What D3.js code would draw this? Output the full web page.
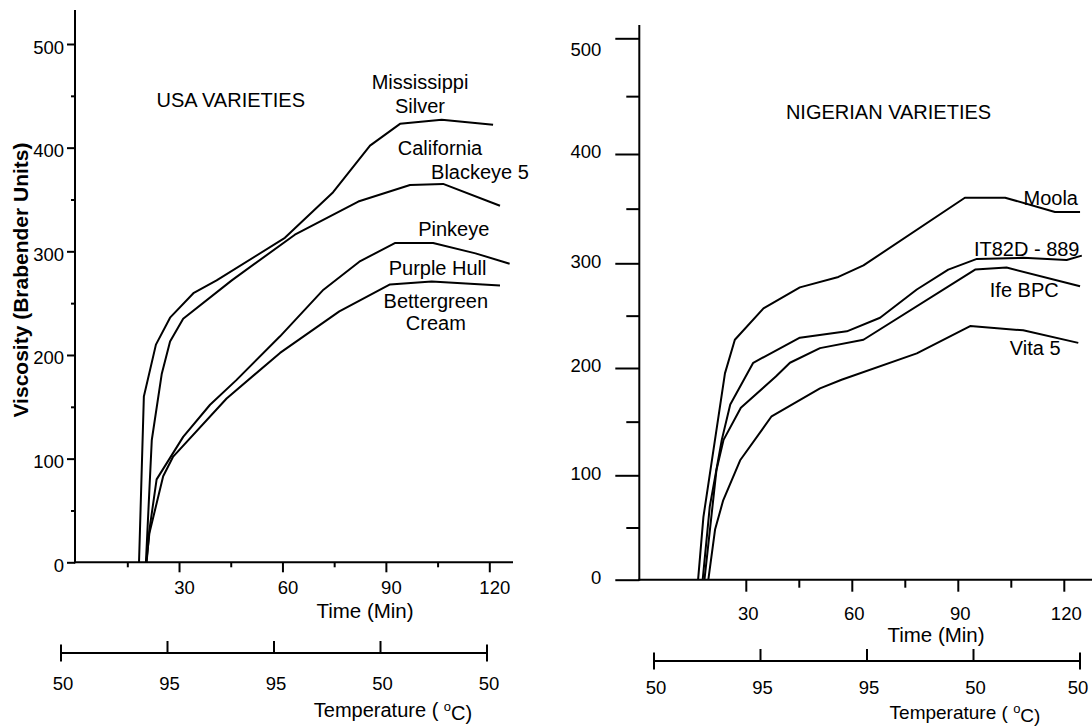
<!DOCTYPE html>
<html lang="en">
<head>
<meta charset="utf-8">
<title>Viscosity curves</title>
<script src="https://d3js.org/d3.v7.min.js"></script>
<style>
  body { margin: 0; background: #fff; }
  svg { font-family: "Liberation Sans", Arial, sans-serif; }
  .curve { fill: none; stroke: #000; stroke-width: 2; stroke-linejoin: round; }
  .axis path { display: none; }
  .axis line, .rule { stroke: #000; stroke-width: 2; }
  .axis text { font-size: 18.5px; fill: #000; font-family: "Liberation Sans", Arial, sans-serif; }
  .lbl { font-size: 20px; fill: #000; }
</style>
</head>
<body>
<script>
var w = 1092, h = 727;

// ticks
var timeMajor = [30, 60, 90, 120];
var timeMinorUsa = [15, 45, 75, 105];
var timeMinorNig = [45, 75, 105];
var viscMajor = [0, 100, 200, 300, 400, 500];
var viscMinor = [50, 150, 250, 350, 450];
var tempLabels = ['50', '95', '95', '50', '50'];
var tempTimes = [0, 30, 60, 90, 120];

// USA varieties, [time (min), viscosity (BU)]
var missSilver = [[18.4,0],[19.8,160],[23.3,210],[27.4,236],[34.3,260],[40.9,272],[60.7,313],[74.7,357],[85.4,402],[94.1,423],[106.2,427],[121.1,422]];
var calBlackeye = [[20.4,0],[20.8,28],[22.1,118],[25.0,182],[27.4,213],[31.2,235],[45.3,272],[63.6,316],[82,348],[97,364],[106.6,365],[123.1,344]];
var pinkeye = [[20.6,0],[21.4,31],[23.5,80],[31.2,121],[39,152],[46.7,176],[59.3,218],[71.9,263],[82.3,290],[92.6,308],[103.7,308],[116,298],[125.9,288]];
var bettergreen = [[20.5,0],[21.4,28],[25.4,83],[28.3,102],[43.8,158],[59.3,202],[76.5,242],[91.2,268],[103.3,271],[123.1,267]];

// Nigerian varieties
var moola = [[16.5,0],[18.0,60],[24.1,195],[26.9,227],[35.0,257],[45.3,277],[56.2,287],[63.3,298],[92.0,360],[103.4,360],[117.5,347],[124.6,347]];
var it82d = [[17.8,0],[19.8,70],[23.2,133],[25.6,166],[32.1,205],[45.3,229],[58.6,235],[68,248],[78.4,275],[87.3,294],[95.4,304],[108.5,305],[120.8,303],[125.1,307]];
var ifeBpc = [[18.3,0],[21.7,105],[23.7,133],[28.6,163],[38.5,192],[42.5,205],[51,219],[63.3,227],[94.9,294],[103.8,296],[124.6,278]];
var vita5 = [[19.4,0],[21.3,48],[23.6,76],[28.4,114],[37.3,155],[51,181],[57.1,189],[78.4,214],[93.5,240],[108.5,236],[124.1,224]];

// curve labels, anchored in data units
var usaLabels = [
  {text:'USA VARIETIES', t:45, v:446},
  {text:'Mississippi', t:99.9, v:463},
  {text:'Silver', t:99.9, v:440},
  {text:'California', t:105.7, v:400},
  {text:'Blackeye 5', t:117.3, v:376.5},
  {text:'Pinkeye', t:109.7, v:321.5},
  {text:'Purple Hull', t:105, v:284},
  {text:'Bettergreen', t:104.5, v:252},
  {text:'Cream', t:104.5, v:231}
];
var nigLabels = [
  {text:'NIGERIAN VARIETIES', t:70.4, v:436},
  {text:'Moola', t:116.3, v:360},
  {text:'IT82D - 889', t:109.5, v:313},
  {text:'Ife BPC', t:108.8, v:274.5},
  {text:'Vita 5', t:111.9, v:219}
];

var svg = d3.select('body').append('svg')
    .attr('width', w)
    .attr('height', h);

var line = d3.line();

function drawPanel(p) {
  var g = svg.append('g');
  var x = p.x, y = p.y;

  g.append('line').attr('class', 'rule')
    .attr('x1', p.axisX).attr('x2', p.axisX).attr('y1', p.axisTop).attr('y2', y(0) + 1);
  g.append('line').attr('class', 'rule')
    .attr('x1', p.axisX - 1).attr('x2', p.axisEnd).attr('y1', y(0)).attr('y2', y(0));

  // y axis
  var ya = g.append('g').attr('class', 'axis')
      .attr('transform', 'translate(' + p.axisX + ',0)')
      .call(d3.axisLeft(y).tickValues(viscMajor).tickSize(p.yMajor).tickPadding(p.yPad).tickFormat(d3.format('d')));
  ya.selectAll('text').attr('y', function(d){return d === 500 ? p.topLabelShift : p.yLabelShift;});
  g.append('g').attr('class', 'axis')
      .attr('transform', 'translate(' + p.axisX + ',0)')
      .call(d3.axisLeft(y).tickValues(viscMinor).tickSize(p.yMinor).tickFormat(''));

  // x axis
  var xa = g.append('g').attr('class', 'axis')
      .attr('transform', 'translate(0,' + y(0) + ')')
      .call(d3.axisBottom(x).tickValues(timeMajor).tickSize(p.xMajor).tickPadding(p.xPad));
  xa.selectAll('text').attr('dx', p.xLabelShift);
  g.append('g').attr('class', 'axis')
      .attr('transform', 'translate(0,' + y(0) + ')')
      .call(d3.axisBottom(x).tickValues(p.minorTimes).tickSize(p.xMinor).tickFormat(''));

  g.append('text').attr('class', 'lbl')
    .attr('x', p.timeTitle[0]).attr('y', p.timeTitle[1])
    .attr('dy', '0.35em').attr('text-anchor', 'middle')
    .style('font-size', '20.5px')
    .text('Time (Min)');

  // temperature programme bar
  var tx = d3.scaleLinear().domain([0, 120]).range(p.tempRange);
  var tb = g.append('g').attr('class', 'axis');
  tb.append('line').attr('x1', tx(0)).attr('x2', tx(120)).attr('y1', p.tempY).attr('y2', p.tempY);
  tb.selectAll('.tt').data(tempTimes).enter().append('line')
    .attr('x1', function(d){return tx(d);}).attr('x2', function(d){return tx(d);})
    .attr('y1', function(d,i){return (i === 0 || i === tempTimes.length - 1) ? p.tempY - 8.5 : p.tempY - 12;})
    .attr('y2', function(d,i){return (i === 0 || i === tempTimes.length - 1) ? p.tempY + 8.5 : p.tempY;});
  tb.selectAll('.tl').data(tempTimes).enter().append('text')
    .attr('x', function(d,i){return tx(d) + (i === tempTimes.length - 1 ? p.lastTempShift : 2);})
    .attr('y', p.tempY + p.tempGap)
    .attr('dy', '0.35em')
    .attr('text-anchor', 'middle')
    .text(function(d,i){return tempLabels[i];});

  var tt = g.append('text').attr('class', 'lbl')
    .attr('x', p.tempTitle[0]).attr('y', p.tempTitle[1])
    .attr('dy', '0.35em').attr('text-anchor', 'middle')
    .style('font-size', p.tempTitleSize);
  tt.append('tspan').text('Temperature ( ');
  tt.append('tspan').attr('dy', '-0.45em').style('font-size', '13px').text('o');
  tt.append('tspan').attr('dy', '0.45em').text('C)');

  // curves
  g.selectAll('.curve').data(p.series).enter().append('path')
    .attr('class', 'curve')
    .attr('d', function(s){return line(s.map(function(d){return [x(d[0]), y(d[1])];}));});

  g.selectAll('.note').data(p.labels).enter().append('text')
    .attr('class', 'lbl')
    .attr('x', function(d){return x(d.t);})
    .attr('y', function(d){return y(d.v);})
    .attr('dy', '0.35em')
    .attr('text-anchor', 'middle')
    .text(function(d){return d.text;});
}

drawPanel({
  x: d3.scaleLinear().domain([0, 120]).range([75.6, 489.3]),
  y: d3.scaleLinear().domain([0, 500]).range([562.3, 44]),
  axisX: 75, axisTop: 10, axisEnd: 513,
  yMajor: 8, yMinor: 4, yPad: 3, yLabelShift: 3, topLabelShift: 4,
  xMajor: 10, xMinor: 5, xPad: 9, xLabelShift: 5,
  minorTimes: timeMinorUsa,
  timeTitle: [365, 611],
  tempRange: [61, 487], tempY: 653, tempGap: 31, lastTempShift: 2,
  tempTitle: [393, 710], tempTitleSize: '20px',
  series: [missSilver, calBlackeye, pinkeye, bettergreen],
  labels: usaLabels
});

drawPanel({
  x: d3.scaleLinear().domain([0, 120]).range([639.8, 1063.8]),
  // hand-drawn axis: uneven spacing between the printed ticks
  y: d3.scaleLinear().domain(viscMajor).range([579.7, 475.3, 368, 263.3, 154, 38.3]),
  axisX: 639.3, axisTop: 25, axisEnd: 1092,
  yMajor: 24, yMinor: 13, yPad: 14, yLabelShift: -2, topLabelShift: 11,
  xMajor: 12, xMinor: 8, xPad: 15.5, xLabelShift: 2,
  minorTimes: timeMinorNig,
  timeTitle: [936, 635],
  tempRange: [654, 1080], tempY: 661, tempGap: 27, lastTempShift: -2,
  tempTitle: [965, 712.5], tempTitleSize: '19px',
  series: [moola, it82d, ifeBpc, vita5],
  labels: nigLabels
});

svg.append('text')
  .attr('transform', 'translate(28,280) rotate(-90)')
  .attr('text-anchor', 'middle')
  .style('font-size', '21px')
  .style('font-weight', 'bold')
  .text('Viscosity (Brabender Units)');
</script>
</body>
</html>
